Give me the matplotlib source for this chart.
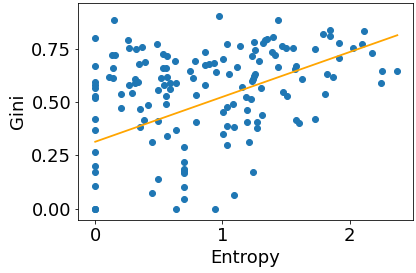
import numpy as np
import matplotlib
matplotlib.use("Agg")
import matplotlib.pyplot as plt

entropy_zero_gini = [0.802, 0.671, 0.597, 0.579, 0.569, 0.527, 0.519, 0.421, 0.368,
                     0.264, 0.200, 0.170, 0.105, 0.0, 0.0, 0.0]

low_pts = [(0.144, 0.885), (0.105, 0.620), (0.139, 0.612), (0.136, 0.659), (0.131, 0.722),
           (0.157, 0.722), (0.204, 0.538), (0.204, 0.471), (0.257, 0.791), (0.269, 0.754),
           (0.322, 0.749), (0.367, 0.758), (0.262, 0.581), (0.288, 0.542), (0.314, 0.608),
           (0.340, 0.596), (0.314, 0.589), (0.346, 0.678), (0.393, 0.688), (0.348, 0.466),
           (0.348, 0.382), (0.380, 0.414), (0.411, 0.487), (0.450, 0.311), (0.450, 0.075),
           (0.482, 0.774), (0.492, 0.555), (0.497, 0.412), (0.497, 0.137)]

mid_pts = [(0.532, 0.727), (0.563, 0.717), (0.628, 0.694), (0.529, 0.659), (0.555, 0.659),
           (0.518, 0.612), (0.563, 0.617), (0.537, 0.581), (0.584, 0.592), (0.636, 0.589),
           (0.584, 0.561), (0.558, 0.529), (0.558, 0.491), (0.563, 0.341), (0.636, 0.369),
           (0.636, 0.0), (0.694, 0.288), (0.694, 0.217), (0.694, 0.188), (0.694, 0.176),
           (0.694, 0.165), (0.694, 0.102), (0.694, 0.047), (0.741, 0.647), (0.772, 0.615),
           (0.788, 0.694), (0.793, 0.534), (0.793, 0.405), (0.866, 0.735), (0.859, 0.674),
           (0.859, 0.581), (0.898, 0.678), (0.937, 0.683), (0.950, 0.641), (0.943, 0.0),
           (0.976, 0.905)]

high_pts = [(1.008, 0.703), (1.034, 0.772), (1.139, 0.766), (1.055, 0.631), (1.118, 0.666),
            (1.034, 0.479), (1.008, 0.455), (1.082, 0.490), (1.039, 0.388), (1.094, 0.381),
            (1.008, 0.349), (1.039, 0.298), (1.094, 0.063), (1.157, 0.573), (1.186, 0.523),
            (1.196, 0.463), (1.196, 0.405), (1.212, 0.311), (1.225, 0.513), (1.233, 0.598),
            (1.240, 0.610), (1.247, 0.622), (1.255, 0.634), (1.236, 0.717), (1.251, 0.785),
            (1.257, 0.746), (1.243, 0.170), (1.270, 0.408), (1.275, 0.377), (1.291, 0.695),
            (1.304, 0.565), (1.314, 0.439), (1.322, 0.778), (1.338, 0.791), (1.348, 0.797),
            (1.393, 0.735), (1.409, 0.722), (1.401, 0.805), (1.440, 0.885), (1.440, 0.664),
            (1.467, 0.766), (1.474, 0.549), (1.500, 0.754), (1.506, 0.529), (1.558, 0.754),
            (1.571, 0.655), (1.577, 0.670), (1.579, 0.414), (1.605, 0.401), (1.628, 0.608),
            (1.730, 0.750), (1.730, 0.420), (1.793, 0.821), (1.809, 0.538), (1.825, 0.634),
            (1.846, 0.838), (1.848, 0.810), (1.866, 0.618), (1.919, 0.778), (1.919, 0.708),
            (2.029, 0.755), (2.099, 0.775), (2.115, 0.833), (2.178, 0.731), (2.249, 0.590),
            (2.257, 0.646), (2.374, 0.646)]

# trend line
line_intercept = 0.314
line_slope = 0.211

x_ticks = [0, 1, 2]
y_ticks = [0.00, 0.25, 0.50, 0.75]
y_tick_labels = ["0.00", "0.25", "0.50", "0.75"]

pts = [(0.0, g) for g in entropy_zero_gini] + low_pts + mid_pts + high_pts
x = np.array([p[0] for p in pts])
y = np.array([p[1] for p in pts])

plt.rcParams['font.size'] = 18
fig = plt.figure(figsize=(416 / 72, 273 / 72), dpi=72)
ax = fig.add_axes([78.3 / 416, 1 - 220 / 273, (412.7 - 78.3) / 416, (220 - 3.3) / 273])
ax.scatter(x, y, color='#1f77b4')
xl = np.array([x.min(), x.max()])
ax.plot(xl, line_intercept + line_slope * xl, color='orange', linewidth=1.8)
ax.set_xticks(x_ticks)
ax.set_yticks(y_ticks)
ax.set_yticklabels(y_tick_labels)
ax.set_xlim(-0.133, 2.495)
ax.set_ylim(-0.054, 0.965)
ax.set_xlabel("Entropy")
ax.set_ylabel("Gini")
fig.savefig("out.png", dpi=72)
